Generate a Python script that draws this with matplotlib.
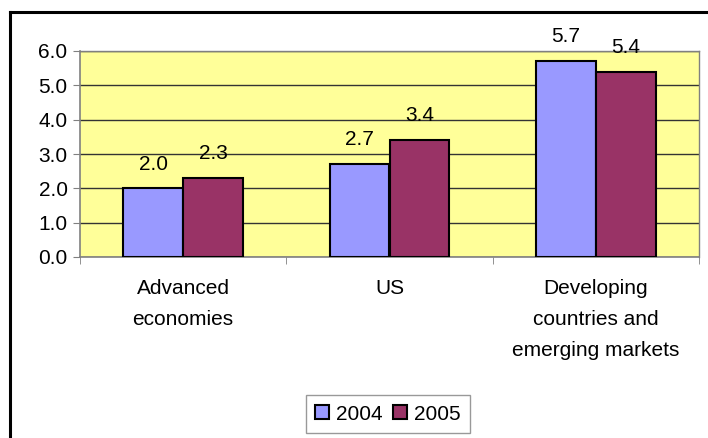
import numpy as np
import matplotlib.pyplot as plt
from matplotlib.lines import Line2D

plt.rcParams['font.family'] = ['Liberation Sans', 'DejaVu Sans']

categories = ['Advanced\neconomies', 'US', 'Developing\ncountries and\nemerging markets']
years = ['2004', '2005']
values_2004 = [2.0, 2.7, 5.7]
values_2005 = [2.3, 3.4, 5.4]
colors = ['#9999FF', '#993366']

W, H = 708, 438
fig = plt.figure(figsize=(W / 100, H / 100), dpi=100)
ax = fig.add_axes([80 / W, 1 - 257 / H, (699 - 80) / W, (257 - 51) / H])
ax.set_facecolor('#FFFF99')

x = np.arange(len(categories))
bw = 0.29
for i, (vals, lab) in enumerate([(values_2004, years[0]), (values_2005, years[1])]):
    pos = x + (i - 0.5) * bw
    ax.bar(pos, vals, bw, color=colors[i], edgecolor='black', linewidth=1.5,
           label=lab, zorder=3)
    for px, v in zip(pos, vals):
        ax.annotate(f'{v:.1f}', (px, v), xytext=(0, 17.5), textcoords='offset points',
                    ha='center', va='center', fontsize=15, annotation_clip=False)

ax.set_xlim(-0.5, len(categories) - 0.5)
ax.set_ylim(0, 6)
ax.set_yticks(np.arange(0, 6.1, 1.0))
ax.set_yticklabels([f'{t:.1f}' for t in np.arange(0, 6.1, 1.0)])
ax.yaxis.grid(True, color='#333333', linewidth=1, zorder=0)
ax.set_axisbelow(True)

ax.set_xticks(x)
ax.set_xticklabels(categories, linespacing=1.8, va='top')
ax.set_xticks(np.arange(-0.5, len(categories), 1.0), minor=True)
ax.tick_params(axis='x', which='major', length=0, pad=16, labelsize=15)
ax.tick_params(axis='x', which='minor', length=5, color='#808080', direction='out')
ax.tick_params(axis='y', length=5, color='#808080', labelsize=15, pad=4)

for s in ['top', 'right']:
    ax.spines[s].set_color('#808080')
    ax.spines[s].set_linewidth(1)
for s in ['left', 'bottom']:
    ax.spines[s].set_color('#808080')
    ax.spines[s].set_linewidth(1.2)

leg = fig.legend(loc='center', bbox_to_anchor=(388 / W, 1 - 414 / H), ncol=2,
                 fontsize=15, frameon=True, fancybox=False, edgecolor='#808080',
                 handlelength=0.65, handleheight=0.65, handletextpad=0.35,
                 columnspacing=0.5, borderpad=0.45)
leg.get_frame().set_linewidth(1)

# outer border of the chart box
fig.add_artist(Line2D([10 / W, 10 / W], [0, 1 - 12 / H], color='black', linewidth=2.2,
                      transform=fig.transFigure))
fig.add_artist(Line2D([10 / W, 1], [1 - 12 / H, 1 - 12 / H], color='black', linewidth=2.2,
                      transform=fig.transFigure))

fig.savefig('out.png', dpi=100)
